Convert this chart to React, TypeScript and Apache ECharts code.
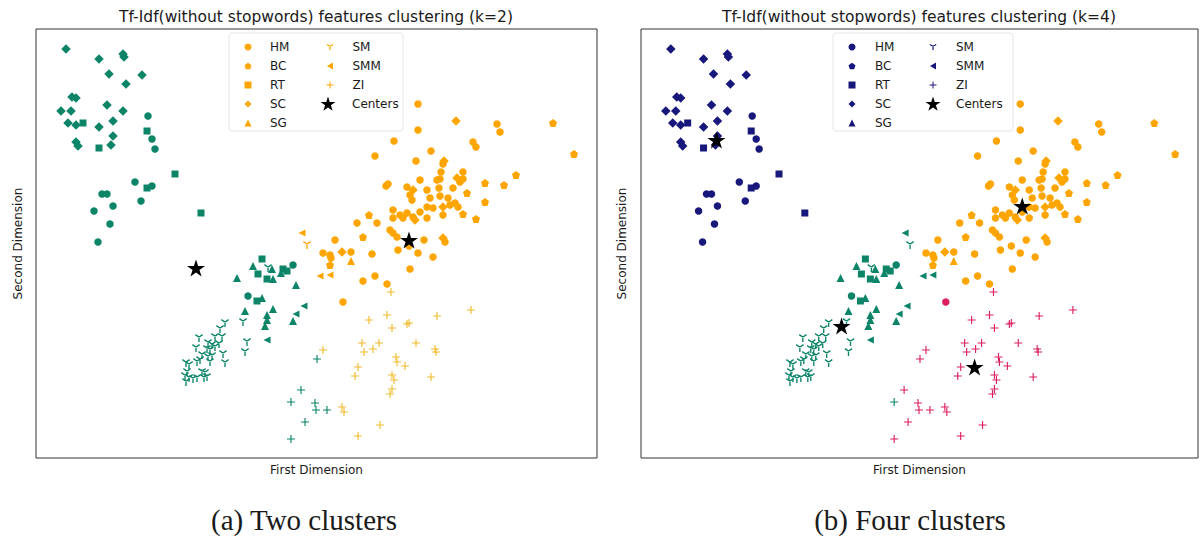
import React, { useEffect, useRef } from 'react';
import * as echarts from 'echarts';

type Pt = [number, number, number, number]; // x, y, cluster (k=2), cluster (k=4)

const TITLE_K2 = 'Tf-Idf(without stopwords) features clustering (k=2)';
const TITLE_K4 = 'Tf-Idf(without stopwords) features clustering (k=4)';
const CAPTION_A = '(a) Two clusters';
const CAPTION_B = '(b) Four clusters';
const X_NAME = 'First Dimension';
const Y_NAME = 'Second Dimension';

const HM: Pt[] = [
  [112, 342, 0, 0], [116, 319, 0, 0], [119, 309, 0, 0], [99, 276, 0, 0], [116, 272, 0, 0], [66, 264, 0, 0],
  [71, 264, 0, 0], [105, 257, 0, 0], [77, 252, 0, 0], [58, 247, 0, 0], [74, 234, 0, 0], [62, 216, 0, 0],
  [212, 162, 0, 1], [257, 193, 0, 1], [307, 156, 1, 3],
  [382, 354, 1, 2], [461, 334, 1, 2], [464, 326, 1, 2], [382, 328, 1, 2], [358, 317, 1, 2], [395, 307, 1, 2],
  [437, 316, 1, 2], [440, 311, 1, 2], [339, 302, 1, 2], [380, 297, 1, 2], [407, 294, 1, 2], [405, 286, 1, 2],
  [427, 286, 1, 2], [384, 278, 1, 2], [401, 278, 1, 2], [404, 279, 1, 2], [424, 276, 1, 2], [427, 279, 1, 2],
  [350, 272, 1, 2], [352, 274, 1, 2], [371, 271, 1, 2], [391, 268, 1, 2], [403, 270, 1, 2], [417, 270, 1, 2],
  [374, 263, 1, 2], [376, 258, 1, 2], [394, 260, 1, 2], [404, 262, 1, 2], [412, 260, 1, 2], [391, 251, 1, 2],
  [397, 250, 1, 2], [414, 253, 1, 2], [419, 255, 1, 2], [422, 251, 1, 2], [357, 248, 1, 2], [364, 243, 1, 2],
  [371, 245, 1, 2], [377, 241, 1, 2], [384, 246, 1, 2], [357, 240, 1, 2], [367, 240, 1, 2], [391, 240, 1, 2],
  [407, 243, 1, 2], [321, 235, 1, 2], [341, 235, 1, 2], [354, 228, 1, 2], [357, 225, 1, 2], [361, 221, 1, 2],
  [299, 218, 1, 2], [388, 218, 1, 2], [409, 216, 1, 2], [362, 208, 1, 2], [373, 212, 1, 2], [382, 205, 1, 2],
  [287, 205, 1, 2], [294, 203, 1, 2], [295, 200, 1, 2], [315, 206, 1, 2], [336, 204, 1, 2], [397, 201, 1, 2],
  [327, 177, 1, 2], [339, 182, 1, 2], [351, 174, 1, 2], [374, 189, 1, 2],
];

const BC: Pt[] = [
  [517, 335, 1, 2], [538, 304, 1, 2], [480, 283, 1, 2], [449, 275, 1, 2], [468, 273, 1, 2], [431, 265, 1, 2],
  [449, 256, 1, 2], [333, 243, 1, 2], [427, 244, 1, 2], [440, 239, 1, 2], [327, 221, 1, 2], [294, 193, 1, 2],
];

const RT: Pt[] = [
  [47, 335, 0, 0], [111, 327, 0, 0], [63, 310, 0, 0], [139, 284, 0, 0], [165, 245, 0, 0], [111, 270, 0, 0],
  [226, 199, 0, 1], [222, 184, 0, 1], [231, 179, 0, 1], [221, 157, 0, 1], [247, 189, 0, 1], [251, 187, 0, 1],
];

const SC: Pt[] = [
  [30, 409, 0, 0], [63, 399, 0, 0], [87, 404, 0, 0], [88, 401, 0, 0], [73, 384, 0, 0], [106, 383, 0, 0],
  [90, 374, 0, 0], [36, 361, 0, 0], [40, 360, 0, 0], [71, 353, 0, 0], [25, 347, 0, 0], [35, 347, 0, 0],
  [87, 347, 0, 0], [32, 335, 0, 0], [40, 333, 0, 0], [63, 331, 0, 0], [77, 337, 0, 0], [40, 316, 0, 0],
  [42, 312, 0, 0], [75, 313, 0, 0], [77, 322, 0, 0],
  [420, 337, 1, 2], [408, 297, 1, 2], [421, 280, 1, 2], [377, 268, 1, 2], [407, 251, 1, 2], [379, 238, 1, 2],
  [407, 220, 1, 2], [306, 206, 1, 2],
];

const SG: Pt[] = [
  [217, 192, 0, 1], [236, 189, 0, 1], [237, 179, 0, 1], [201, 180, 0, 1], [260, 173, 0, 1], [226, 160, 0, 1],
  [209, 147, 0, 1], [237, 149, 0, 1], [231, 143, 0, 1], [231, 138, 0, 1], [229, 132, 0, 1], [257, 137, 0, 1],
  [245, 185, 0, 1], [315, 197, 1, 2],
];

const SM: Pt[] = [
  [232, 190, 0, 1], [207, 136, 0, 1], [189, 135, 0, 1], [184, 129, 0, 1], [211, 116, 0, 1], [209, 106, 0, 1],
  [163, 120, 0, 1], [179, 121, 0, 1], [186, 121, 0, 1], [172, 115, 0, 1], [176, 113, 0, 1], [179, 111, 0, 1],
  [160, 110, 0, 1], [171, 109, 0, 1], [174, 108, 0, 1], [183, 114, 0, 1], [166, 103, 0, 1], [172, 101, 0, 1],
  [176, 102, 0, 1], [187, 104, 0, 1], [161, 96, 0, 1], [164, 98, 0, 1], [174, 96, 0, 1], [189, 95, 0, 1],
  [150, 95, 0, 1], [153, 93, 0, 1], [151, 86, 0, 1], [166, 86, 0, 1], [169, 85, 0, 1], [171, 81, 0, 1],
  [149, 82, 0, 1], [153, 80, 0, 1], [157, 79, 0, 1], [161, 80, 0, 1], [150, 76, 0, 1], [168, 80, 0, 1],
  [271, 213, 1, 1],
];

const SMM: Pt[] = [
  [268, 152, 0, 1], [260, 144, 0, 1], [231, 118, 0, 1], [266, 225, 1, 1], [284, 182, 1, 1], [294, 183, 1, 1],
];

const ZI: Pt[] = [
  [281, 99, 0, 3], [265, 68, 0, 3], [279, 55, 0, 3], [280, 48, 0, 3], [291, 48, 0, 3], [269, 36, 0, 3],
  [255, 19, 0, 3], [255, 56, 0, 1],
  [355, 166, 1, 3], [435, 148, 1, 3], [333, 138, 1, 3], [351, 143, 1, 3], [356, 130, 1, 3], [371, 134, 1, 3],
  [373, 135, 1, 3], [401, 142, 1, 3], [326, 115, 1, 3], [328, 106, 1, 3], [337, 109, 1, 3], [343, 115, 1, 3],
  [380, 115, 1, 3], [399, 109, 1, 3], [400, 106, 1, 3], [287, 108, 1, 3], [360, 101, 1, 3], [361, 96, 1, 3],
  [369, 92, 1, 3], [322, 91, 1, 3], [319, 82, 1, 3], [356, 83, 1, 3], [358, 78, 1, 3], [395, 81, 1, 3],
  [356, 69, 1, 3], [354, 64, 1, 3], [306, 51, 1, 3], [308, 46, 1, 3], [344, 33, 1, 3], [322, 22, 1, 3],
];

const CENTERS_K2: number[][] = [[160, 190], [373, 218]];
const CENTERS_K4: number[][] = [[76, 318], [202, 132], [384, 252], [336, 91]];

const X_MAX = 561;
const Y_MAX = 429;

const COLORS_K2 = ['#0b8468', '#ffa500'];
const COLORS_K4 = ['#17177c', '#0b8468', '#ffa500', '#dc1f5e'];
const ZI_K2_COLOR = '#f0bc2c';

const PLUS = 'path://M4.3,0H5.7V4.3H10V5.7H5.7V10H4.3V5.7H0V4.3H4.3Z';
const TRI_DOWN = 'path://M4.2,5H5.8V10H4.2Z M5.4,4.307L1.07,1.807L0.27,3.193L4.6,5.693Z M5.4,5.693L9.73,3.193L8.93,1.807L4.6,4.307Z';
const TRI_LEFT = 'path://M0,5L8.66,0V10Z';
const PENTAGON = 'path://M5,0L9.755,3.455L7.939,9.045L2.061,9.045L0.245,3.455Z';
const STAR = 'path://M5,0L6.123,3.455L9.755,3.455L6.817,5.59L7.939,9.045L5,6.91L2.061,9.045L3.183,5.59L0.245,3.455L3.877,3.455Z';

const CATS = [
  { name: 'HM', symbol: 'circle', size: 7.5, data: HM },
  { name: 'BC', symbol: PENTAGON, size: 8, data: BC },
  { name: 'RT', symbol: 'rect', size: 7, data: RT },
  { name: 'SC', symbol: 'diamond', size: 9.5, data: SC },
  { name: 'SG', symbol: 'triangle', size: 8, data: SG },
  { name: 'SM', symbol: TRI_DOWN, size: 8, data: SM },
  { name: 'SMM', symbol: TRI_LEFT, size: 7, data: SMM },
  { name: 'ZI', symbol: PLUS, size: 8, data: ZI },
];
const SYMBOL_OF: Record<string, string> = {};
CATS.forEach((c) => { SYMBOL_OF[c.name] = c.symbol; });
SYMBOL_OF['Centers'] = STAR;

const FONT = 'DejaVu Sans';
const TEXT_COLOR = '#1a1a1a';

function makeLegend(names: string[], left: number, top: number, color: string, size: number, pad: number) {
  return {
    orient: 'vertical',
    left,
    top,
    padding: 0,
    itemGap: 5,
    itemWidth: size,
    itemHeight: size,
    selectedMode: false,
    textStyle: { fontFamily: FONT, fontSize: 12, color: TEXT_COLOR, lineHeight: 14, padding: [0, 0, 0, pad] },
    data: names.map((n) => ({ name: n, icon: SYMBOL_OF[n], itemStyle: { color, opacity: 1 } })),
  };
}

export default function App() {
  const ref = useRef<HTMLDivElement>(null);
  useEffect(() => {
    if (!ref.current) return;
    const chart = echarts.init(ref.current, null, { renderer: 'svg' });
    const grids = [
      { left: 36, top: 29, width: 561, height: 429 },
      { left: 641, top: 29, width: 557, height: 429 },
    ];
    const series: any[] = [];
    [0, 1].forEach((p) => {
      const palette = p === 0 ? COLORS_K2 : COLORS_K4;
      CATS.forEach((c) => {
        const groups = new Map<number, number[][]>();
        c.data.forEach((pt) => {
          const k = p === 0 ? pt[2] : pt[3];
          if (!groups.has(k)) groups.set(k, []);
          groups.get(k)!.push([pt[0], pt[1]]);
        });
        groups.forEach((pts, k) => {
          let color = palette[k];
          if (p === 0 && c.name === 'ZI' && k === 1) color = ZI_K2_COLOR;
          series.push({
            type: 'scatter', name: c.name, xAxisIndex: p, yAxisIndex: p,
            symbol: c.symbol, symbolSize: c.size, itemStyle: { color, opacity: 1 },
            data: pts, silent: true, z: 2,
          });
        });
      });
      series.push({
        type: 'scatter', name: 'Centers', xAxisIndex: p, yAxisIndex: p,
        symbol: STAR, symbolSize: 18, symbolKeepAspect: true, itemStyle: { color: '#000', opacity: 1 },
        data: p === 0 ? CENTERS_K2 : CENTERS_K4, silent: true, z: 5,
      });
    });

    const axisCommon = {
      type: 'value', min: 0,
      axisLine: { show: false }, axisTick: { show: false }, axisLabel: { show: false }, splitLine: { show: false },
      nameLocation: 'middle',
      nameTextStyle: { fontFamily: FONT, fontSize: 12, color: TEXT_COLOR, lineHeight: 14 },
    };

    const lbox = (x: number, w: number) => ({
      type: 'rect', shape: { x, y: 33, width: w, height: 98, r: 3 }, z: 3,
      style: { fill: 'rgba(255,255,255,0.8)', stroke: '#e6e6e6', lineWidth: 1 },
    });
    const txt = (x: number, y: number, text: string, font: string) => ({
      type: 'text', x, y, z: 10,
      style: { text, font, fill: TEXT_COLOR, align: 'center', verticalAlign: 'middle', textAlign: 'center', textVerticalAlign: 'middle' },
    });

    chart.setOption({
      animation: false,
      backgroundColor: '#ffffff',
      grid: grids.map((g) => ({ ...g, show: true, borderColor: '#333', borderWidth: 1, backgroundColor: 'transparent' })),
      xAxis: [
        { ...axisCommon, gridIndex: 0, max: X_MAX, name: X_NAME, nameGap: 5 },
        { ...axisCommon, gridIndex: 1, max: X_MAX, name: X_NAME, nameGap: 5 },
      ],
      yAxis: [
        { ...axisCommon, gridIndex: 0, max: Y_MAX, name: Y_NAME, nameGap: 11 },
        { ...axisCommon, gridIndex: 1, max: Y_MAX, name: Y_NAME, nameGap: 12 },
      ],
      legend: [
        makeLegend(['HM', 'BC', 'RT', 'SC', 'SG'], 244.5, 40, '#ffa500', 7, 13.5),
        makeLegend(['SM', 'SMM', 'ZI'], 326.5, 40, '#ffa500', 7, 14),
        makeLegend(['Centers'], 320.5, 96.5, '#000', 15, 11.5),
        makeLegend(['HM', 'BC', 'RT', 'SC', 'SG'], 848.5, 40, '#17177c', 7, 14.5),
        makeLegend(['SM', 'SMM', 'ZI'], 929.5, 40, '#17177c', 7, 14.5),
        makeLegend(['Centers'], 925.5, 96.5, '#000', 15, 10.5),
      ],
      graphic: [
        lbox(229, 174),
        lbox(833, 180),
        txt(316, 17, TITLE_K2, '15.5px "DejaVu Sans"'),
        txt(919, 17, TITLE_K4, '15.5px "DejaVu Sans"'),
        txt(304, 520, CAPTION_A, '29px "Liberation Serif"'),
        txt(910, 520, CAPTION_B, '29px "Liberation Serif"'),
      ],
      series,
    });
    return () => chart.dispose();
  }, []);
  return <div ref={ref} style={{ position: 'fixed', left: 0, top: 0, width: 1203, height: 536 }} />;
}
